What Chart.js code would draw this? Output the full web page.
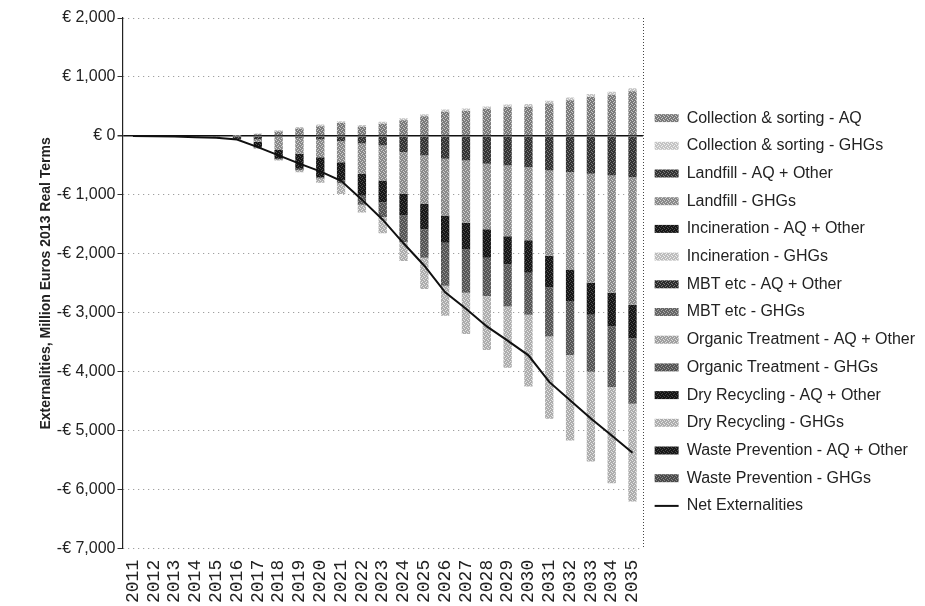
<!DOCTYPE html>
<html>
<head>
<meta charset="utf-8">
<script src="https://cdn.jsdelivr.net/npm/chart.js@4.4.1/dist/chart.umd.min.js"></script>
<style>
  html, body { margin: 0; padding: 0; background: #fff; }
  #wrap { width: 925px; height: 606px; }
</style>
</head>
<body>
<div id="wrap"><canvas id="chart"></canvas></div>
<script>
// Externalities by treatment route, 2011-2035 (million euros, 2013 real terms)

const years = ['2011','2012','2013','2014','2015','2016','2017','2018','2019','2020','2021','2022','2023',
               '2024','2025','2026','2027','2028','2029','2030','2031','2032','2033','2034','2035'];

const collectionAQ   = [0,0,0,0,0,5,30,75,125,165,220,155,205,265,335,410,425,460,490,495,550,605,660,700,760];
const collectionGHG  = [0,0,0,0,0,5,10,20,25,30,30,30,35,35,35,40,40,40,45,45,45,45,50,50,50];
const landfillAQ     = [0,-5,-10,-20,-30,-60,-60,-20,-30,-60,-90,-130,-160,-270,-330,-385,-415,-470,-500,-530,-585,-610,-640,-670,-700];
const landfillGHG    = [0,0,0,0,0,0,-40,-220,-270,-300,-355,-515,-595,-715,-825,-965,-1055,-1110,-1200,-1240,-1445,-1655,-1850,-1990,-2160];
const incinerationAQ = [0,0,0,0,0,0,-90,-145,-255,-340,-310,-370,-370,-365,-425,-460,-455,-485,-480,-550,-540,-535,-540,-570,-570];
const incinerationGHG= [0,0,0,0,0,0,0,0,0,0,0,0,0,0,0,0,0,0,0,0,0,0,0,0,0];
const mbtAQ          = [0,0,0,0,0,0,0,0,0,0,0,0,0,0,0,0,0,0,0,0,0,0,0,0,0];
const mbtGHG         = [0,0,0,0,0,0,0,0,0,0,0,0,0,0,0,0,0,0,0,0,0,0,0,0,0];
const organicAQ      = [0,0,0,0,0,0,0,0,0,0,0,0,0,0,0,0,0,0,0,0,0,0,0,0,0];
const organicGHG     = [0,0,0,0,0,0,-10,-15,-25,-20,-45,-150,-250,-450,-485,-730,-735,-650,-710,-710,-830,-915,-970,-1025,-1110];
const dryAQ          = [0,0,0,0,0,0,0,0,0,0,0,0,0,0,0,0,0,0,0,0,0,0,0,0,0];
const dryGHG         = [0,0,0,0,0,0,-15,-15,-35,-75,-185,-135,-275,-320,-530,-510,-700,-915,-1040,-1220,-1395,-1450,-1520,-1635,-1660];
const preventionAQ   = [0,0,0,0,0,0,0,0,0,0,0,0,0,0,0,0,0,0,0,0,0,0,0,0,0];
const preventionGHG  = [0,0,0,0,0,0,0,0,0,0,0,0,0,0,0,0,0,0,0,0,0,0,0,0,0];
const netExternalities = [0,-5,-10,-20,-30,-60,-190,-330,-470,-600,-760,-1080,-1420,-1820,-2200,-2650,-2930,-3230,-3470,-3720,-4170,-4480,-4790,-5080,-5370];

const yTicks = [2000, 1000, 0, -1000, -2000, -3000, -4000, -5000, -6000, -7000];

// speckled grey fills, like the scanned hatch patterns
function speckle(base, dot) {
    const c = document.createElement('canvas');
    c.width = 4; c.height = 4;
    const g = c.getContext('2d');
    g.fillStyle = base;
    g.fillRect(0, 0, 4, 4);
    g.fillStyle = dot;
    [[0,0],[2,1],[1,2],[3,3]].forEach(([x, y]) => g.fillRect(x, y, 1, 1));
    return g.createPattern(c, 'repeat');
}

const barSeries = [
    ['Collection & sorting - AQ', collectionAQ, '#7a7a7a', '#c8c8c8'],
    ['Collection & sorting - GHGs', collectionGHG, '#c4c4c4', '#f0f0f0'],
    ['Landfill - AQ + Other', landfillAQ, '#333333', '#7a7a7a'],
    ['Landfill - GHGs', landfillGHG, '#8a8a8a', '#cfcfcf'],
    ['Incineration - AQ + Other', incinerationAQ, '#161616', '#505050'],
    ['Incineration - GHGs', incinerationGHG, '#bdbdbd', '#eeeeee'],
    ['MBT etc - AQ + Other', mbtAQ, '#2a2a2a', '#777777'],
    ['MBT etc - GHGs', mbtGHG, '#666666', '#aaaaaa'],
    ['Organic Treatment - AQ + Other', organicAQ, '#a0a0a0', '#dddddd'],
    ['Organic Treatment - GHGs', organicGHG, '#555555', '#959595'],
    ['Dry Recycling - AQ + Other', dryAQ, '#141414', '#444444'],
    ['Dry Recycling - GHGs', dryGHG, '#adadad', '#e4e4e4'],
    ['Waste Prevention - AQ + Other', preventionAQ, '#181818', '#4a4a4a'],
    ['Waste Prevention - GHGs', preventionGHG, '#4a4a4a', '#888888']
];

const datasets = barSeries.map(([label, data, base, dot]) => ({
    type: 'bar',
    label: label,
    data: data,
    backgroundColor: speckle(base, dot),
    borderWidth: 0,
    barPercentage: 0.4,
    categoryPercentage: 1,
    pointStyle: 'rect',
    order: 2
}));

datasets.push({
    type: 'line',
    label: 'Net Externalities',
    data: netExternalities,
    borderColor: '#111',
    backgroundColor: '#111',
    borderWidth: 2,
    pointRadius: 0,
    tension: 0,
    stack: 'net',
    pointStyle: 'line',
    order: 1
});

// dotted right-hand frame line
const frameRight = {
    id: 'frameRight',
    afterDraw(chart) {
        const { ctx, chartArea: a } = chart;
        ctx.save();
        ctx.strokeStyle = '#444';
        ctx.lineWidth = 1;
        ctx.setLineDash([1, 2]);
        ctx.beginPath();
        ctx.moveTo(Math.round(a.right) + 0.5, a.top);
        ctx.lineTo(Math.round(a.right) + 0.5, a.bottom);
        ctx.stroke();
        ctx.restore();
    }
};

new Chart(document.getElementById('chart'), {
    data: { labels: years, datasets: datasets },
    plugins: [frameRight],
    options: {
        responsive: true,
        maintainAspectRatio: false,
        animation: false,
        layout: { padding: { left: 38, right: 0, top: 18, bottom: 0 } },
        plugins: {
            tooltip: { enabled: false },
            legend: {
                position: 'right',
                maxWidth: 300,
                labels: {
                    usePointStyle: true,
                    pointStyleWidth: 24,
                    boxHeight: 8,
                    padding: 11.7,
                    color: '#222',
                    font: { family: 'Liberation Sans', size: 16 },
                    sort: (a, b) => a.datasetIndex - b.datasetIndex
                }
            }
        },
        scales: {
            x: {
                stacked: true,
                grid: { display: false },
                border: { display: false },
                ticks: {
                    autoSkip: false,
                    minRotation: 90,
                    maxRotation: 90,
                    padding: 3,
                    color: '#222',
                    font: { family: 'Liberation Mono', size: 18 }
                }
            },
            y: {
                stacked: true,
                min: -7000,
                max: 2000,
                afterBuildTicks: axis => { axis.ticks = yTicks.map(v => ({ value: v })); },
                ticks: {
                    padding: 2,
                    color: '#222',
                    font: { family: 'Liberation Sans', size: 16 },
                    callback: v => (v < 0 ? '-€ ' : '€ ') + Math.abs(v).toLocaleString('en-US')
                },
                grid: {
                    color: c => (c.tick && c.tick.value === 0) ? '#111' : '#8a8a8a',
                    lineWidth: c => (c.tick && c.tick.value === 0) ? 1.5 : 1,
                    tickColor: '#333',
                    tickLength: 5
                },
                border: {
                    color: '#222',
                    width: 1.2,
                    dash: c => (c.tick && c.tick.value === 0) ? [] : [1, 4]
                },
                title: {
                    display: true,
                    text: 'Externalities, Million Euros 2013 Real Terms',
                    color: '#222',
                    font: { family: 'Liberation Sans', size: 14, weight: 'bold' },
                    padding: { top: 0, bottom: 0 }
                }
            }
        }
    }
});
</script>
</body>
</html>
